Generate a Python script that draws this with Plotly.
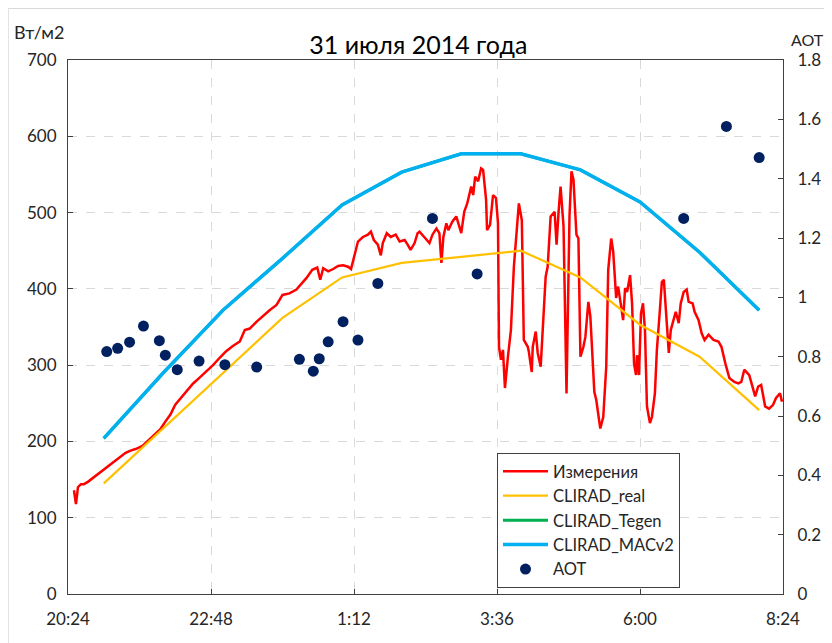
import plotly.graph_objects as go

# ---------------- data ----------------
red_times = ["20:30","20:31","20:32","20:33","20:34","20:37","20:40","20:44","20:46","20:49",
 "20:54","20:59","21:04","21:10","21:15","21:22","21:27","21:32","21:39","21:44",
 "21:51","21:57","22:02","22:07","22:12","22:16","22:23","22:30","22:36","22:43",
 "22:50","22:57","23:03","23:10","23:17","23:22","23:27","23:34","23:40","23:47",
 "23:54","0:00","0:07","0:14","0:24","0:30","0:35","0:38","0:41","0:46",
 "0:51","0:56","1:01","1:06","1:09","1:12","1:16","1:21","1:26","1:29",
 "1:32","1:36","1:39","1:41","1:45","1:49","1:54","1:58","2:03","2:06",
 "2:09","2:13","2:16","2:18","2:21","2:24","2:28","2:31","2:35","2:38",
 "2:40","2:42","2:45","2:47","2:51","2:55","2:58","3:00","3:03","3:06",
 "3:10","3:12","3:14","3:17","3:20","3:22","3:25","3:26","3:29","3:32",
 "3:35","3:37","3:38","3:40","3:42","3:44","3:47","3:50","3:53","3:58",
 "4:01","4:03","4:07","4:08","4:11","4:12","4:15","4:17","4:20","4:22",
 "4:25","4:27","4:30","4:34","4:36","4:38","4:40","4:43","4:46","4:49",
 "4:51","4:53","4:56","4:58","5:00","5:03","5:05","5:08","5:10","5:14",
 "5:16","5:20","5:23","5:26","5:28","5:31","5:33","5:36","5:38","5:41",
 "5:43","5:45","5:47","5:50","5:52","5:54","5:56","5:57","5:59","6:01",
 "6:03","6:05","6:07","6:10","6:12","6:15","6:17","6:20","6:22","6:24",
 "6:26","6:29","6:31","6:33","6:36","6:39","6:41","6:44","6:47","6:49",
 "6:53","6:55","6:59","7:02","7:05","7:09","7:14","7:19","7:22","7:26",
 "7:30","7:35","7:39","7:42","7:45","7:50","7:53","7:56","7:59","8:02",
 "8:06","8:10","8:14","8:17","8:21","8:23"]
red_values = [136,123,118,128,140,144,144,147,149,153,
 157,163,168,173,179,185,188,190,194,200,
 208,216,226,235,248,254,265,276,283,291,
 300,310,318,325,331,346,348,357,364,372,
 379,392,394,399,414,425,428,412,427,423,
 426,430,431,429,426,442,462,468,471,475,
 464,458,444,460,473,468,471,462,464,458,
 451,460,473,475,471,466,460,471,479,473,
 434,468,486,477,488,495,482,473,501,512,
 534,523,547,541,558,556,517,477,484,523,
 519,486,324,307,320,270,311,346,429,512,
 490,333,324,318,291,324,344,316,298,350,
 416,429,495,501,458,501,534,482,263,495,
 554,543,471,466,311,324,337,383,364,265,
 254,217,232,298,425,466,449,388,403,377,
 359,401,396,418,381,302,287,313,287,368,
 381,346,246,224,232,263,320,372,409,412,
 372,316,346,357,370,355,381,396,399,383,
 381,370,359,342,333,340,333,331,324,302,
 283,278,276,278,294,287,272,259,272,274,
 246,243,248,257,263,252]

model_times = ["21:00","22:00","23:00","0:00","1:00","2:00","3:00","4:00","5:00","6:00","7:00","8:00"]
clirad_real = [145, 217, 290, 362, 415, 434, 442, 450, 415, 353, 311, 241]
clirad_tegen = [204, 290, 372, 440, 510, 553, 577, 577, 556, 514, 448, 372]
clirad_macv2 = [204, 290, 372, 440, 510, 553, 577, 577, 556, 514, 448, 372]

aot_times = ["21:03","21:14","21:26","21:40","21:56","22:02","22:14","22:36","23:02","23:34",
 "0:17","0:31","0:37","0:46","1:01","1:16","1:36","2:31","3:16","6:44","7:27","8:00"]
aot_values = [0.817,0.828,0.849,0.903,0.854,0.805,0.756,0.785,0.773,0.765,
 0.791,0.751,0.793,0.850,0.918,0.856,1.047,1.266,1.079,1.266,1.576,1.471]

x_start, x_end = "20:24", "8:24"

# ---------------- helpers ----------------
def to_dt(t):
    h, m = t.split(":")
    h = int(h)
    day = "2014-07-30" if h >= 20 else "2014-07-31"
    return f"{day} {h:02d}:{m}"

def conv(ts):
    return [to_dt(t) for t in ts]

FONT = "Lato, Calibri, Arial, sans-serif"
TXT = "#262626"

fig = go.Figure()
fig.add_trace(go.Scatter(x=conv(red_times), y=red_values, mode="lines", name="Измерения",
                         line=dict(color="#FF0000", width=2.5)))
fig.add_trace(go.Scatter(x=conv(model_times), y=clirad_real, mode="lines", name="CLIRAD_real",
                         line=dict(color="#FFC000", width=2.2)))
fig.add_trace(go.Scatter(x=conv(model_times), y=clirad_tegen, mode="lines", name="CLIRAD_Tegen",
                         line=dict(color="#00B050", width=3)))
fig.add_trace(go.Scatter(x=conv(model_times), y=clirad_macv2, mode="lines", name="CLIRAD_MACv2",
                         line=dict(color="#00B0F0", width=3.5)))
fig.add_trace(go.Scatter(x=conv(aot_times), y=aot_values, mode="markers", name="AOT", yaxis="y2",
                         marker=dict(color="#002060", size=11)))

axis_common = dict(showline=True, linecolor="#404040", linewidth=1, ticks="inside",
                   ticklen=5, tickcolor="#404040", tickfont=dict(size=17, color=TXT, family=FONT),
                   zeroline=False)

W, H = 824, 635
fig.update_layout(
    width=W, height=H,
    margin=dict(l=60, r=49, t=52, b=49),
    paper_bgcolor="white", plot_bgcolor="white",
    font=dict(family=FONT, color=TXT),
    title=dict(text="31 июля 2014 года", x=0.49, xref="paper", xanchor="center",
               y=1 - 37 / H, yanchor="middle", font=dict(size=25, color="#000000", family=FONT)),
    xaxis=dict(type="date", range=[to_dt(x_start), to_dt(x_end)], tick0=to_dt(x_start),
               dtick=8640000, tickformat="%-H:%M", showgrid=True, gridcolor="#D9D9D9",
               griddash="dash", mirror=True, ticklabelstandoff=10, **axis_common),
    yaxis=dict(range=[0, 700], dtick=100, showgrid=True, gridcolor="#D9D9D9", griddash="dash",
               ticklabelstandoff=7, **axis_common),
    yaxis2=dict(range=[0, 1.8], dtick=0.2, overlaying="y", side="right", showgrid=False,
                ticklabelstandoff=10, **axis_common),
    legend=dict(x=0.6, y=0.264, xanchor="left", yanchor="top", bgcolor="white",
                bordercolor="#404040", borderwidth=1, itemwidth=45,
                font=dict(size=16.5, color=TXT, family=FONT)),
    showlegend=True,
    annotations=[
        dict(text="Вт/м2", xref="paper", yref="paper", x=-0.079, y=1.052, xanchor="left",
             yanchor="middle", showarrow=False, font=dict(size=18, color=TXT, family=FONT)),
        dict(text="АОТ", xref="paper", yref="paper", x=1.009, y=1.0375, xanchor="left",
             yanchor="middle", showarrow=False, font=dict(size=16, color=TXT, family=FONT)),
    ],
    shapes=[dict(type="rect", xref="paper", yref="paper", x0=-0.0836, x1=1.2, y0=-0.2, y1=1.0964,
                 line=dict(color="#D9D9D9", width=1), layer="below")],
)

fig.write_html("out.html")
